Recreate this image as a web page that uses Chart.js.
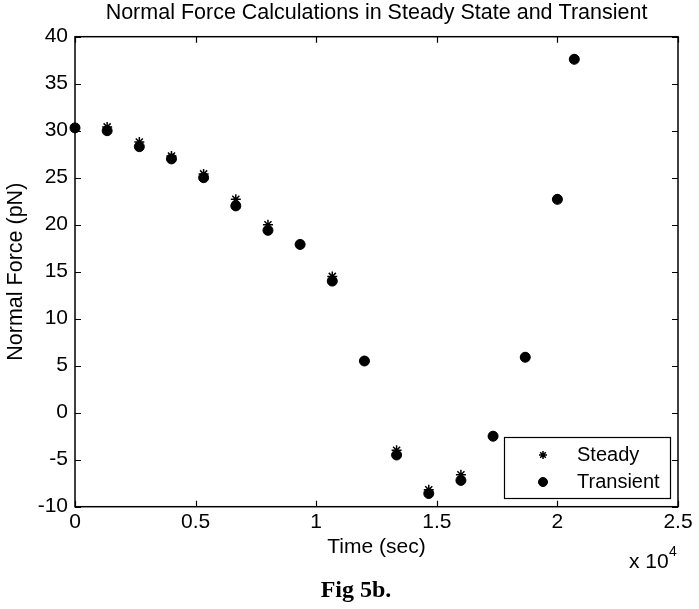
<!DOCTYPE html>
<html><head><meta charset="utf-8">
<script src="https://cdn.jsdelivr.net/npm/chart.js@4.4.0/dist/chart.umd.min.js"></script>
<style>html,body{margin:0;padding:0;background:#fff;} #wrap{width:699px;height:609px;}</style>
</head><body><div id="wrap"><canvas id="c" width="699" height="609"></canvas></div>
<script>
// ---- data (time in seconds, force in pN) ----
const timesSec = [0, 1333, 2667, 4000, 5333, 6667, 8000, 9333, 10667, 12000, 13333, 14667, 16000, 17333, 18667, 20000, 20700];
const steadyForce = [30.3, 30.4, 28.8, 27.3, 25.4, 22.7, 20.0, 17.9, 14.5, 5.5, -4.0, -8.2, -6.6, -2.5, 5.9, 22.7, 37.6];
const transientForce = [30.3, 30.0, 28.3, 27.0, 25.0, 22.0, 19.4, 17.9, 14.0, 5.5, -4.5, -8.6, -7.2, -2.5, 5.9, 22.7, 37.6];
const xTickValues = [0, 5000, 10000, 15000, 20000, 25000];
const yTickValues = [-10, -5, 0, 5, 10, 15, 20, 25, 30, 35, 40];
const seriesNames = ['Steady', 'Transient'];
const titleText = 'Normal Force Calculations in Steady State and Transient';
const xTitle = 'Time (sec)';
const yTitle = 'Normal Force (pN)';
const figCaption = 'Fig 5b.';

const SANS = "'Liberation Sans', Arial, Helvetica, sans-serif";
const SERIF = "'Liberation Serif', 'Times New Roman', serif";
const pts = (xs, ys) => xs.map((x, i) => ({x: x, y: ys[i]}));

const steadyStyle = {pointStyle: 'star', radius: 5, borderWidth: 1.5, borderColor: '#000', backgroundColor: '#000'};
const transientStyle = {pointStyle: 'circle', radius: 5, borderWidth: 1, borderColor: '#000', backgroundColor: '#000'};

function drawMarker(ctx, st, x, y) {
  ctx.save();
  ctx.strokeStyle = st.borderColor; ctx.fillStyle = st.backgroundColor; ctx.lineWidth = st.borderWidth;
  if (Chart.helpers && Chart.helpers.drawPoint) {
    Chart.helpers.drawPoint(ctx, {pointStyle: st.pointStyle, radius: st.radius, borderWidth: st.borderWidth, rotation: 0}, x, y);
  }
  ctx.restore();
}

const framePlugin = {
  id: 'frame',
  beforeDatasetsDraw(chart) {
    const {ctx, chartArea: a, scales} = chart;
    ctx.save();
    ctx.strokeStyle = '#000';
    ctx.lineWidth = 1.5;
    ctx.strokeRect(a.left, a.top, a.right - a.left, a.bottom - a.top);
    ctx.lineWidth = 1.2;
    const tl = 6;
    ctx.beginPath();
    xTickValues.forEach(v => {
      const px = Math.round(scales.x.getPixelForValue(v)) + 0.5;
      ctx.moveTo(px, a.bottom); ctx.lineTo(px, a.bottom - tl);
      ctx.moveTo(px, a.top); ctx.lineTo(px, a.top + tl);
    });
    yTickValues.forEach(v => {
      const py = Math.round(scales.y.getPixelForValue(v)) + 0.5;
      ctx.moveTo(a.left, py); ctx.lineTo(a.left + tl, py);
      ctx.moveTo(a.right, py); ctx.lineTo(a.right - tl, py);
    });
    ctx.stroke();
    ctx.restore();
  },
  afterDraw(chart) {
    const {ctx} = chart;
    ctx.save();
    // legend box
    const lx = 504.5, ly = 437.5, lw = 166, lh = 61;
    ctx.fillStyle = '#fff';
    ctx.fillRect(lx, ly, lw, lh);
    ctx.strokeStyle = '#000'; ctx.lineWidth = 1.2;
    ctx.strokeRect(lx, ly, lw, lh);
    drawMarker(ctx, Object.assign({}, steadyStyle, {radius: 4}), 543, 455);
    drawMarker(ctx, Object.assign({}, transientStyle, {radius: 4.5}), 543, 482);
    ctx.fillStyle = '#000';
    ctx.font = '20px ' + SANS;
    ctx.textAlign = 'left'; ctx.textBaseline = 'middle';
    ctx.fillText(seriesNames[0], 577, 455);
    ctx.fillText(seriesNames[1], 577, 482);
    // exponent
    ctx.textBaseline = 'alphabetic';
    ctx.font = '21px ' + SANS;
    ctx.fillText('x 10', 629, 568);
    ctx.font = '14px ' + SANS;
    ctx.fillText('4', 669, 556);
    // caption
    ctx.font = 'bold 24px ' + SERIF;
    ctx.textAlign = 'center';
    ctx.fillText(figCaption, 356, 597);
    ctx.restore();
  }
};

new Chart(document.getElementById('c'), {
  type: 'scatter',
  data: {
    datasets: [
      Object.assign({label: seriesNames[1], data: pts(timesSec, transientForce), clip: false}, {
        pointStyle: transientStyle.pointStyle, pointRadius: transientStyle.radius, pointBorderWidth: transientStyle.borderWidth,
        pointBorderColor: transientStyle.borderColor, pointBackgroundColor: transientStyle.backgroundColor, pointHoverRadius: 5}),
      Object.assign({label: seriesNames[0], data: pts(timesSec, steadyForce), clip: false}, {
        pointStyle: steadyStyle.pointStyle, pointRadius: steadyStyle.radius, pointBorderWidth: steadyStyle.borderWidth,
        pointBorderColor: steadyStyle.borderColor, pointBackgroundColor: steadyStyle.backgroundColor, pointHoverRadius: 5})
    ]
  },
  options: {
    responsive: false, animation: false, devicePixelRatio: 1,
    layout: {padding: {top: 0, left: 0, right: 21, bottom: 42.3}},
    plugins: {
      legend: {display: false}, tooltip: {enabled: false},
      title: {display: true, text: titleText, fullSize: false, color: '#000',
        font: {family: SANS, size: 21.5, weight: 'normal'}, padding: {top: 0.5, bottom: 10.4}}
    },
    scales: {
      x: {
        type: 'linear', min: 0, max: 25000,
        afterBuildTicks: s => { s.ticks = xTickValues.map(v => ({value: v})); },
        afterFit: s => { s.height = 60; },
        grid: {display: false, drawTicks: false}, border: {display: false},
        ticks: {color: '#000', font: {family: SANS, size: 21}, padding: 3.2, autoSkip: false, maxRotation: 0,
          callback: v => String(v / 10000)},
        title: {display: true, text: xTitle, color: '#000', font: {family: SANS, size: 21}, padding: {top: 0, bottom: 7.1}}
      },
      y: {
        type: 'linear', min: -10, max: 40,
        afterBuildTicks: s => { s.ticks = yTickValues.map(v => ({value: v})); },
        afterFit: s => { s.width = 75; },
        grid: {display: false, drawTicks: false}, border: {display: false},
        ticks: {color: '#000', font: {family: SANS, size: 21}, padding: 7, autoSkip: false},
        title: {display: true, text: yTitle, color: '#000', font: {family: SANS, size: 21.5}, padding: {top: 3.2, bottom: 0}}
      }
    }
  },
  plugins: [framePlugin]
});
</script>
</body></html>
